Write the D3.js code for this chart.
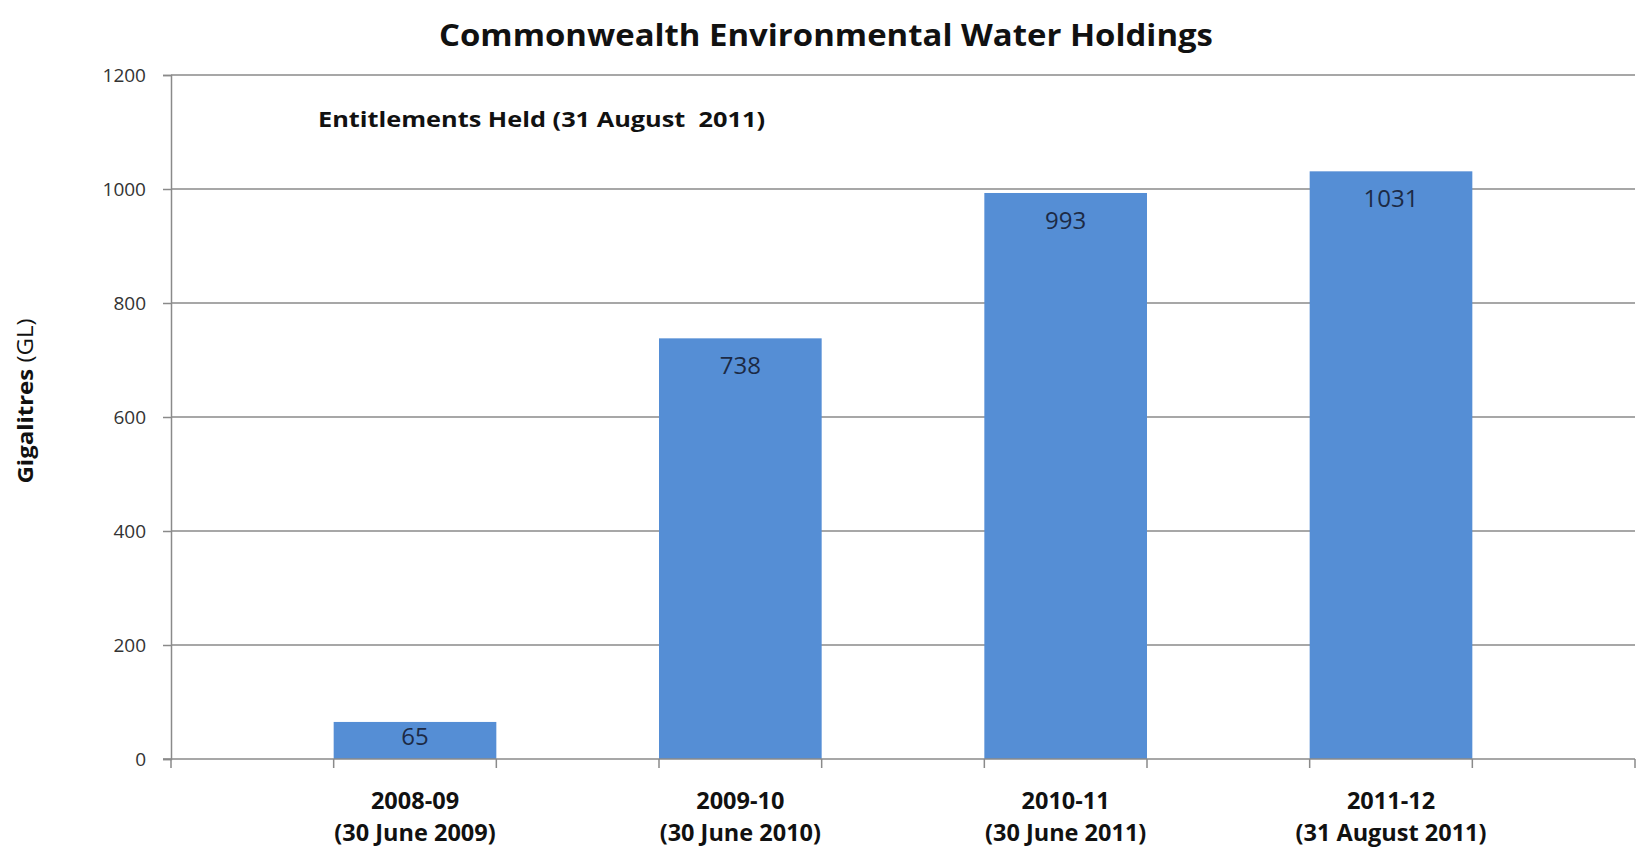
<!DOCTYPE html>
<html>
<head>
<meta charset="utf-8">
<script src="https://cdn.jsdelivr.net/npm/d3@7"></script>
<style>
  html, body { margin: 0; padding: 0; background: #fff; }
  svg { display: block; }
  text { font-family: "Open Sans", "Liberation Sans", sans-serif; }
</style>
</head>
<body>
<svg id="chart" width="1636" height="847"></svg>
<script>
// ---- data ----
const categories = ["2008-09", "2009-10", "2010-11", "2011-12"];
const subLabels = ["(30 June 2009)", "(30 June 2010)", "(30 June 2011)", "(31 August 2011)"];
const values = [65, 738, 993, 1031];
const yTicks = [0, 200, 400, 600, 800, 1000, 1200];
const titleText = "Commonwealth Environmental Water Holdings";
const noteText = "Entitlements Held (31 August  2011)";
const yTitleMain = "Gigalitres";
const yTitleUnit = " (GL)";

// ---- layout ----
const plot = { left: 171, right: 1635, top: 75, bottom: 759 };
const svg = d3.select("#chart");

const x = d3.scaleBand()
  .domain(categories)
  .range([plot.left, plot.right])
  .paddingInner(0.5)
  .paddingOuter(0.5);

const y = d3.scaleLinear()
  .domain([0, 1200])
  .range([plot.bottom, plot.top]);

const gridColor = "#8a8a8a";

// gridlines
svg.append("g")
  .selectAll("line")
  .data(yTicks.filter(d => d > 0))
  .join("line")
  .attr("x1", plot.left).attr("x2", plot.right)
  .attr("y1", d => y(d)).attr("y2", d => y(d))
  .attr("stroke", gridColor).attr("stroke-width", 1.5);

// y axis
const yAxis = d3.axisLeft(y).tickValues(yTicks).tickSize(8).tickPadding(17).tickFormat(d3.format("d"));
const gy = svg.append("g").attr("transform", `translate(${plot.left},0)`).call(yAxis);
gy.select(".domain").attr("stroke", gridColor).attr("stroke-width", 1.5);
gy.selectAll(".tick line").attr("stroke", gridColor).attr("stroke-width", 1.5);
gy.selectAll(".tick text")
  .attr("font-family", "'Open Sans', sans-serif")
  .attr("font-size", 19)
  .attr("fill", "#333");

// bars
svg.append("g")
  .selectAll("rect")
  .data(values)
  .join("rect")
  .attr("x", (d, i) => x(categories[i]))
  .attr("width", x.bandwidth())
  .attr("y", d => y(d))
  .attr("height", d => y(0) - y(d))
  .attr("fill", "#558ed5");

// bar value labels (inside end; short bars centered)
svg.append("g")
  .selectAll("text")
  .data(values)
  .join("text")
  .attr("x", (d, i) => x(categories[i]) + x.bandwidth() / 2)
  .attr("y", d => Math.min(y(d) + 36, (y(d) + y(0)) / 2 + 5))
  .attr("text-anchor", "middle")
  .attr("font-size", 24)
  .attr("fill", "#1c2a45")
  .text(d => d);

// x axis line
svg.append("line")
  .attr("x1", plot.left - 8).attr("x2", plot.right)
  .attr("y1", y(0)).attr("y2", y(0))
  .attr("stroke", gridColor).attr("stroke-width", 1.5);

// x tick marks at band edges and range ends
const xTickPos = [plot.left, plot.right];
categories.forEach(c => { xTickPos.push(x(c)); xTickPos.push(x(c) + x.bandwidth()); });
svg.append("g")
  .selectAll("line")
  .data(xTickPos)
  .join("line")
  .attr("x1", d => d).attr("x2", d => d)
  .attr("y1", y(0)).attr("y2", y(0) + 9)
  .attr("stroke", gridColor).attr("stroke-width", 1.5);

// x category labels
const xl = svg.append("g");
categories.forEach((c, i) => {
  const cx = x(c) + x.bandwidth() / 2;
  xl.append("text")
    .attr("x", cx).attr("y", 809)
    .attr("text-anchor", "middle")
    .attr("font-size", 23.5).attr("font-weight", "bold")
    .attr("fill", "#111")
    .text(c);
  xl.append("text")
    .attr("x", cx).attr("y", 841)
    .attr("text-anchor", "middle")
    .attr("font-size", 23.5).attr("font-weight", "bold")
    .attr("fill", "#111")
    .text(subLabels[i]);
});

// title
svg.append("text")
  .attr("x", 826).attr("y", 46)
  .attr("text-anchor", "middle")
  .attr("font-size", 30).attr("font-weight", "bold")
  .attr("fill", "#111")
  .attr("textLength", 774).attr("lengthAdjust", "spacingAndGlyphs")
  .text(titleText);

// annotation
svg.append("text")
  .attr("x", 318).attr("y", 127)
  .attr("font-size", 22).attr("font-weight", "bold")
  .attr("fill", "#111")
  .style("white-space", "pre")
  .attr("textLength", 447).attr("lengthAdjust", "spacingAndGlyphs")
  .text(noteText);

// y axis title
const yt = svg.append("text")
  .attr("transform", "translate(33,401) rotate(-90)")
  .attr("text-anchor", "middle")
  .attr("font-size", 21)
  .attr("fill", "#111")
  .attr("textLength", 165).attr("lengthAdjust", "spacingAndGlyphs")
  .style("white-space", "pre");
yt.append("tspan").attr("font-weight", "bold").text(yTitleMain);
yt.append("tspan").attr("font-weight", "normal").text(yTitleUnit);
</script>
</body>
</html>
